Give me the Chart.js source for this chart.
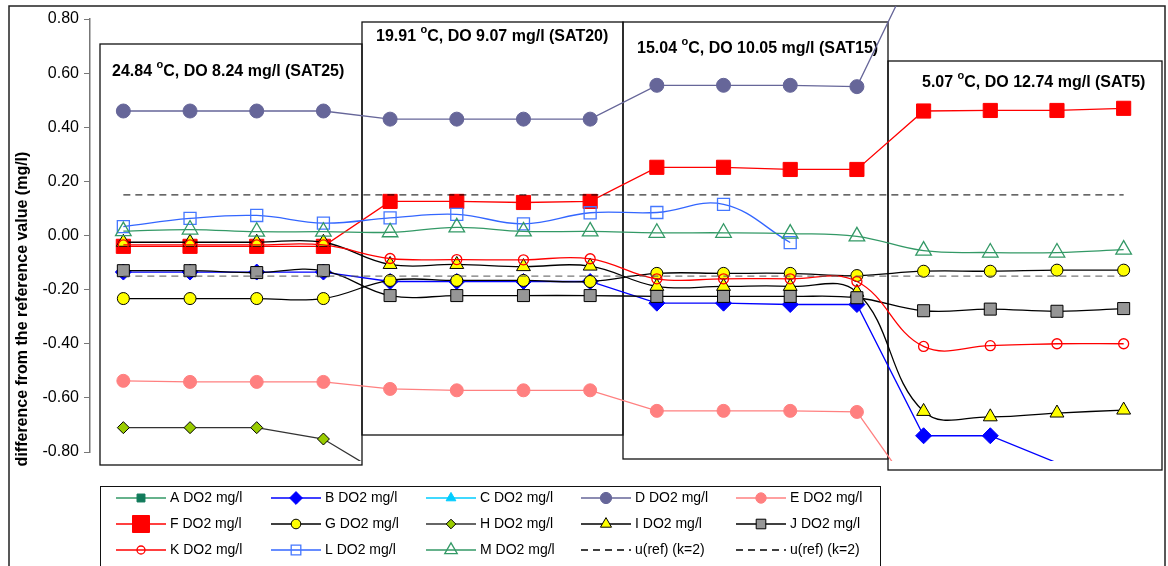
<!DOCTYPE html>
<html>
<head>
<meta charset="utf-8">
<script src="https://cdn.jsdelivr.net/npm/chart.js@4/dist/chart.umd.min.js"></script>
<style>
  html, body { margin: 0; padding: 0; background: #fff; }
  #wrap { width: 1168px; height: 566px; position: relative; overflow: hidden; }
</style>
</head>
<body>
<div id="wrap"><canvas id="doChart" width="1168" height="566"></canvas></div>
<script>
// 4 saturation levels, 4 readings each
const groups = ['SAT25', 'SAT20', 'SAT15', 'SAT5'];
const categories = ['1', '2', '3', '4', '5', '6', '7', '8', '9', '10', '11', '12', '13', '14', '15', '16'];
const yTicks = [-0.8, -0.6, -0.4, -0.2, 0, 0.2, 0.4, 0.6, 0.8];

const seriesA = [null, null, null, null, null, null, null, null, null, null, null, null, null, null, null, null];
const seriesB = [-0.135, -0.135, -0.135, -0.135, -0.17, -0.17, -0.17, -0.17, -0.25, -0.25, -0.255, -0.255, -0.74, -0.74, -0.84, -0.86];
const seriesC = [null, null, null, null, null, null, null, null, null, null, null, null, null, null, null, null];
const seriesD = [0.46, 0.46, 0.46, 0.46, 0.43, 0.43, 0.43, 0.43, 0.555, 0.555, 0.555, 0.55, 1.06, 1.06, 1.06, 1.06];
const seriesE = [-0.537, -0.541, -0.541, -0.541, -0.567, -0.572, -0.572, -0.572, -0.648, -0.648, -0.648, -0.652, -1.0, -1.0, -1.0, -1.0];
const seriesF = [-0.04, -0.04, -0.04, -0.04, 0.126, 0.126, 0.122, 0.126, 0.252, 0.252, 0.244, 0.244, 0.46, 0.462, 0.462, 0.47];
const seriesG = [-0.233, -0.233, -0.233, -0.233, -0.166, -0.166, -0.166, -0.17, -0.14, -0.14, -0.14, -0.148, -0.132, -0.132, -0.128, -0.128];
const seriesH = [-0.71, -0.71, -0.71, -0.752, -0.9, -0.9, -0.9, -0.9, null, null, null, null, null, null, null, null];
const seriesI = [-0.025, -0.025, -0.025, -0.025, -0.107, -0.107, -0.115, -0.113, -0.188, -0.188, -0.188, -0.21, -0.65, -0.67, -0.656, -0.645];
const seriesJ = [-0.13, -0.13, -0.137, -0.13, -0.222, -0.222, -0.222, -0.222, -0.225, -0.225, -0.225, -0.23, -0.278, -0.272, -0.28, -0.27];
const seriesK = [-0.035, -0.035, -0.035, -0.035, -0.085, -0.089, -0.09, -0.086, -0.16, -0.16, -0.16, -0.17, -0.41, -0.407, -0.4, -0.4];
const seriesL = [0.033, 0.063, 0.074, 0.046, 0.065, 0.078, 0.043, 0.084, 0.085, 0.115, -0.026, null, null, null, null, null];
const seriesM = [0.016, 0.022, 0.014, 0.014, 0.012, 0.03, 0.015, 0.015, 0.01, 0.01, 0.007, -0.003, -0.056, -0.063, -0.063, -0.052];
const uRefUpper = [0.15, 0.15, 0.15, 0.15, 0.15, 0.15, 0.15, 0.15, 0.15, 0.15, 0.15, 0.15, 0.15, 0.15, 0.15, 0.15];
const uRefLower = [-0.15, -0.15, -0.15, -0.15, -0.15, -0.15, -0.15, -0.15, -0.15, -0.15, -0.15, -0.15, -0.15, -0.15, -0.15, -0.15];

const boxLabels = [
  { pre: '24.84 ', post: 'C, DO 8.24 mg/l (SAT25)' },
  { pre: '19.91 ', post: 'C, DO 9.07 mg/l (SAT20)' },
  { pre: '15.04 ', post: 'C, DO 10.05 mg/l (SAT15)' },
  { pre: '5.07 ', post: 'C, DO 12.74 mg/l (SAT5)' }
];

const FONT = '"Liberation Sans", Arial, sans-serif';
Chart.defaults.font.family = FONT;

function series(label, data, color, style, radius, fill, border, tension, lineColor) {
  return {
    label: label,
    data: data,
    borderColor: lineColor || color,
    legendColor: color,
    borderWidth: 1.3,
    pointStyle: style,
    pointRadius: radius,
    pointHoverRadius: radius,
    pointBackgroundColor: fill,
    pointBorderColor: border,
    pointBorderWidth: fill === 'transparent' ? 1.3 : 1,
    tension: tension,
    fill: false,
    spanGaps: false,
    clip: { left: 0, top: 13, right: 0, bottom: 9 }
  };
}

const datasets = [
  series('A DO2 mg/l', seriesA, '#339966', 'rect', 7, '#117a5a', '#117a5a', 0),
  series('B DO2 mg/l', seriesB, '#0000ff', 'rectRot', 8, '#0000ff', '#0000ff', 0),
  series('C DO2 mg/l', seriesC, '#00ccff', 'triangle', 7, '#00ccff', '#00ccff', 0),
  series('D DO2 mg/l', seriesD, '#666699', 'circle', 7, '#666699', '#666699', 0),
  series('E DO2 mg/l', seriesE, '#ff8080', 'circle', 6.5, '#ff8080', '#ff8080', 0),
  series('F DO2 mg/l', seriesF, '#ff0000', 'rect', 10, '#ff0000', '#ff0000', 0),
  series('G DO2 mg/l', seriesG, '#000000', 'circle', 6, '#ffff00', '#000000', 0.4),
  series('H DO2 mg/l', seriesH, '#333333', 'rectRot', 6, '#99cc00', '#000000', 0),
  series('I DO2 mg/l', seriesI, '#000000', 'triangle', 8, '#ffff00', '#000000', 0.4),
  series('J DO2 mg/l', seriesJ, '#000000', 'rect', 8.5, '#969696', '#000000', 0.4),
  series('K DO2 mg/l', seriesK, '#ff0000', 'circle', 5, 'transparent', '#ff0000', 0.4),
  series('L DO2 mg/l', seriesL, '#3366ff', 'rect', 8.5, 'transparent', '#4477ff', 0.4),
  series('M DO2 mg/l', seriesM, '#339966', 'triangle', 9, 'transparent', '#339966', 0.4)
];
const upper = series('u(ref) (k=2)', uRefUpper, '#000000', 'circle', 0, '#000', '#000', 0);
upper.borderDash = [7, 5]; upper.borderWidth = 1;
const lower = series('u(ref) (k=2)', uRefLower, '#000000', 'circle', 0, '#000', '#000', 0, '#555555');
lower.borderDash = [7, 5]; lower.borderWidth = 1;
datasets.push(upper, lower);
// later series on top, like the spreadsheet
datasets.forEach(function (d, i) { d.order = datasets.length - i; });

function drawMarker(ctx, style, x, y, r, fill, stroke, lw) {
  ctx.beginPath();
  if (style === 'circle') {
    ctx.arc(x, y, r, 0, Math.PI * 2);
  } else if (style === 'rect') {
    const s = r * Math.SQRT1_2;
    ctx.rect(x - s, y - s, 2 * s, 2 * s);
  } else if (style === 'rectRot') {
    ctx.moveTo(x, y - r); ctx.lineTo(x + r, y); ctx.lineTo(x, y + r); ctx.lineTo(x - r, y); ctx.closePath();
  } else if (style === 'triangle') {
    ctx.moveTo(x, y - r);
    ctx.lineTo(x + 0.866 * r, y + 0.5 * r);
    ctx.lineTo(x - 0.866 * r, y + 0.5 * r);
    ctx.closePath();
  }
  if (fill && fill !== 'transparent') { ctx.fillStyle = fill; ctx.fill(); }
  if (lw > 0) { ctx.lineWidth = lw; ctx.strokeStyle = stroke; ctx.stroke(); }
}

function degreeText(ctx, x, y, pre, post) {
  ctx.font = 'bold 16px ' + FONT;
  ctx.fillText(pre, x, y);
  let w = ctx.measureText(pre).width;
  ctx.font = 'bold 11px ' + FONT;
  ctx.fillText('o', x + w, y - 7);
  w += ctx.measureText('o').width;
  ctx.font = 'bold 16px ' + FONT;
  ctx.fillText(post, x + w, y);
}

const decor = {
  id: 'decor',
  beforeDraw(chart) {
    const ctx = chart.ctx;
    ctx.save();
    ctx.fillStyle = '#fff';
    ctx.fillRect(0, 0, chart.width, chart.height);
    ctx.strokeStyle = '#222';
    ctx.lineWidth = 1.5;
    ctx.strokeRect(9, 6, 1156, 600);
    // axis title
    ctx.fillStyle = '#000';
    ctx.font = 'bold 16px ' + FONT;
    ctx.translate(23, 309);
    ctx.rotate(-Math.PI / 2);
    ctx.textAlign = 'center';
    ctx.textBaseline = 'middle';
    ctx.fillText('difference from the reference value (mg/l)', 0, 0);
    ctx.restore();
  },
  beforeDatasetsDraw(chart) {
    const ctx = chart.ctx;
    const boxes = [
      { x: 100, y: 44, w: 262, h: 421, tx: 112, ty: 72 },
      { x: 362, y: 22, w: 261, h: 413, tx: 376, ty: 37 },
      { x: 623, y: 22, w: 265, h: 437, tx: 637, ty: 49 },
      { x: 888, y: 61, w: 274, h: 409, tx: 922, ty: 83 }
    ];
    ctx.save();
    ctx.strokeStyle = '#111';
    ctx.lineWidth = 1.3;
    boxes.forEach(function (b) { ctx.strokeRect(b.x, b.y, b.w, b.h); });
    ctx.fillStyle = '#000';
    ctx.textBaseline = 'middle';
    ctx.textAlign = 'left';
    boxes.forEach(function (b, i) { degreeText(ctx, b.tx, b.ty, boxLabels[i].pre, boxLabels[i].post); });
    ctx.restore();
  },
  afterDraw(chart) {
    const ctx = chart.ctx;
    ctx.save();
    ctx.fillStyle = '#fff';
    ctx.fillRect(100, 486, 780, 90);
    ctx.strokeStyle = '#111';
    ctx.lineWidth = 1;
    ctx.strokeRect(100.5, 486.5, 780, 90);
    ctx.font = '14px ' + FONT;
    ctx.textBaseline = 'middle';
    ctx.textAlign = 'left';
    chart.data.datasets.forEach(function (d, i) {
      const col = i % 5, row = Math.floor(i / 5);
      const x0 = 103 + col * 155, y = 498 + row * 26;
      ctx.strokeStyle = d.legendColor;
      ctx.lineWidth = 1.3;
      ctx.setLineDash(d.borderDash || []);
      ctx.beginPath();
      ctx.moveTo(x0 + 13, y); ctx.lineTo(x0 + 63, y);
      ctx.stroke();
      ctx.setLineDash([]);
      if (d.pointRadius > 0) {
        const r = d.pointStyle === 'rect' && d.pointRadius >= 10 ? 12 : d.pointRadius * 0.8;
        drawMarker(ctx, d.pointStyle, x0 + 38, y, r, d.pointBackgroundColor, d.pointBorderColor, d.pointBorderWidth);
      }
      ctx.fillStyle = '#000';
      ctx.fillText(d.label, x0 + 67, y);
    });
    ctx.restore();
  }
};

new Chart(document.getElementById('doChart'), {
  type: 'line',
  data: { labels: categories, datasets: datasets },
  options: {
    responsive: false,
    devicePixelRatio: 1,
    animation: false,
    layout: { padding: { left: 10, top: 19, right: 8, bottom: 114 } },
    plugins: { legend: { display: false }, tooltip: { enabled: false } },
    scales: {
      x: { type: 'category', offset: true, display: false },
      y: {
        min: -0.8, max: 0.8,
        afterFit(scale) { scale.width = 80; },
        afterBuildTicks(scale) { scale.ticks = yTicks.map(function (v) { return { value: v }; }); },
        ticks: {
          color: '#000',
          font: { size: 16 },
          padding: 5,
          callback: function (v) { return Number(v).toFixed(2); }
        },
        grid: { display: true, drawOnChartArea: false, drawTicks: true, tickLength: 6, color: '#777' },
        border: { display: true, color: '#777', width: 1.5 }
      }
    }
  },
  plugins: [decor]
});
</script>
</body>
</html>
